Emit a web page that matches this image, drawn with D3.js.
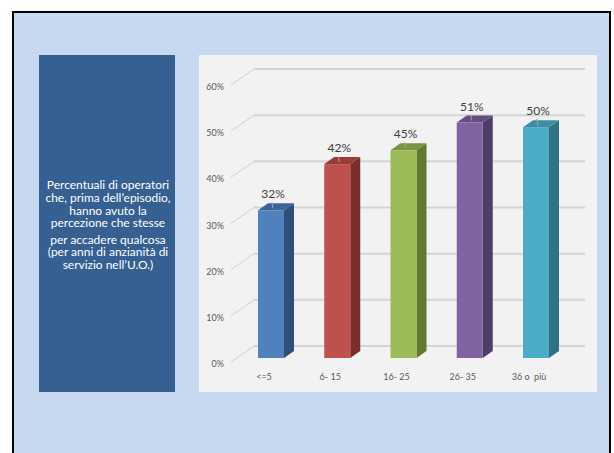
<!DOCTYPE html>
<html><head><meta charset="utf-8">
<script src="https://cdn.jsdelivr.net/npm/d3@7"></script>
<style>html,body{margin:0;padding:0;background:#fff;}svg{display:block;}</style>
</head><body>
<svg id="c" width="614" height="453"></svg>
<script>
const categories = ["<=5", "6- 15", "16- 25", "26- 35", "36 o\u00A0 più"];
const values = [0.32, 0.42, 0.45, 0.51, 0.50];
const valueLabels = ["32%", "42%", "45%", "51%", "50%"];
const tickValues = [0, 0.1, 0.2, 0.3, 0.4, 0.5, 0.6];
const frontColors = ["#4F81BD", "#C0504D", "#9BBB59", "#8064A2", "#4BACC6"];
const sideColors = ["#2F4F7A", "#7A2E2C", "#63792F", "#4E3D66", "#2F7185"];
const topColors = ["#3A6496", "#993B39", "#7A9443", "#654E84", "#3A8FA6"];
const titleLines = ["Percentuali di operatori", "che, prima dell\u2019episodio,", "hanno avuto la", "percezione che stesse", "per accadere qualcosa", "(per anni di anzianità di", "servizio nell\u2019U.O.)"];

const svg = d3.select("#c");
const font = "Lato, 'Open Sans', sans-serif";

// outer frame
svg.append("rect").attr("x", 13).attr("y", 12).attr("width", 597).attr("height", 450)
  .attr("fill", "#C6D9F0").attr("stroke", "#000").attr("stroke-width", 2);

// left panel
svg.append("rect").attr("x", 39).attr("y", 55).attr("width", 136).attr("height", 337).attr("fill", "#366092");
const lineY = [185, 198, 211, 223, 240, 252, 265];
svg.append("g").attr("transform", "translate(108,0) scale(1.13,1)")
  .selectAll("text").data(titleLines).join("text")
  .attr("x", 0).attr("y", (d, i) => lineY[i] + 4)
  .attr("text-anchor", "middle").attr("fill", "#fff")
  .attr("font-family", font).attr("font-size", 10.6).text(d => d);

// chart panel
svg.append("rect").attr("x", 199).attr("y", 55).attr("width", 398).attr("height", 337).attr("fill", "#F2F2F2");

const y = d3.scaleLinear().domain([0, 0.6]).range([362, 85]);
const depthX = 23, depthY = -16;
const backRight = 585;
const axisX = 231;

const grid = svg.append("g");
tickValues.forEach(t => {
  grid.append("line").attr("x1", axisX + depthX).attr("x2", backRight)
    .attr("y1", y(t) + depthY).attr("y2", y(t) + depthY)
    .attr("stroke", "#D4D4D4").attr("stroke-width", 2);
  grid.append("line").attr("x1", axisX).attr("y1", y(t))
    .attr("x2", axisX + depthX).attr("y2", y(t) + depthY)
    .attr("stroke", "#CFCFCF").attr("stroke-width", 1);
  grid.append("text").attr("x", 224).attr("y", y(t) + 5)
    .attr("text-anchor", "end").attr("fill", "#595959")
    .attr("font-family", font).attr("font-size", 9)
    .text(d3.format(".0%")(t));
});

const x = d3.scalePoint().domain(categories).range([271, 536]);
const bw = 26, bdx = 10, bdy = -7, shift = -4;
const bars = svg.append("g");
categories.forEach((c, i) => {
  const cx = x(c), x0 = cx - bw / 2, x1 = cx + bw / 2;
  const yb = y(0) + shift, yt = y(values[i]) + shift;
  bars.append("path").attr("d", `M${x1},${yb}L${x1 + bdx},${yb + bdy}L${x1 + bdx},${yt + bdy}L${x1},${yt}Z`)
    .attr("fill", sideColors[i]);
  bars.append("path").attr("d", `M${x0},${yt}L${x0 + bdx},${yt + bdy}L${x1 + bdx},${yt + bdy}L${x1},${yt}Z`)
    .attr("fill", topColors[i]);
  bars.append("rect").attr("x", x0).attr("y", yt).attr("width", bw).attr("height", yb - yt)
    .attr("fill", frontColors[i]);
  bars.append("line").attr("x1", cx + 1).attr("y1", yt - 8).attr("x2", cx + 2).attr("y2", yt - 2)
    .attr("stroke", "#A6A6A6").attr("stroke-width", 1);
  bars.append("text").attr("x", cx + 2).attr("y", yt - 12)
    .attr("text-anchor", "middle").attr("fill", "#404040")
    .attr("font-family", font).attr("font-size", 12).text(valueLabels[i]);
  bars.append("text").attr("x", cx - 7).attr("y", 380)
    .attr("text-anchor", "middle").attr("fill", "#595959")
    .attr("font-family", font).attr("font-size", 9).text(c);
});
</script>
</body></html>
